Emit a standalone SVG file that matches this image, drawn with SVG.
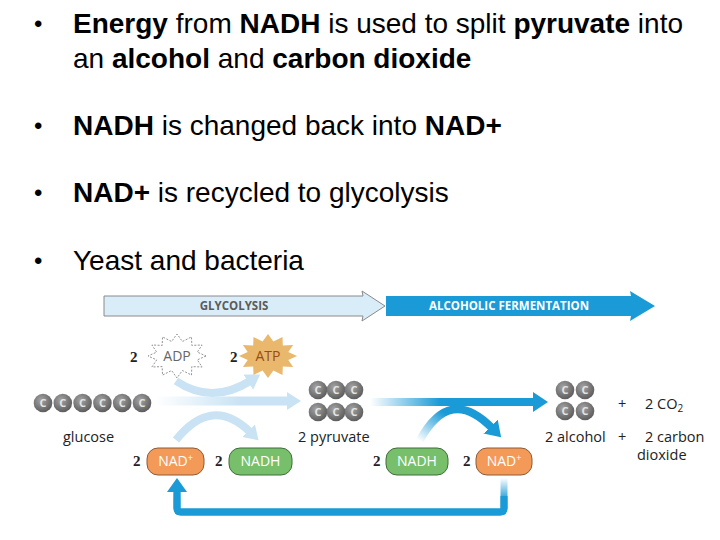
<svg xmlns="http://www.w3.org/2000/svg" width="720" height="540" viewBox="0 0 720 540">
<style>
.bt{font-family:"Liberation Sans",Arial,sans-serif;font-size:28px;fill:#000}
.bu{font-family:"Liberation Sans",Arial,sans-serif;font-size:24px;fill:#000}
.b{font-weight:bold}
.lbl{font-family:"Open Sans","Liberation Sans",sans-serif;font-size:14.5px;fill:#222}
.num{font-family:"Liberation Serif",serif;font-size:15px;font-weight:bold;fill:#222}
.pill{font-family:"Open Sans","Liberation Sans",sans-serif;font-size:14px;fill:#fff;text-anchor:middle}
.ban{font-family:"Open Sans","Liberation Sans",sans-serif;font-size:11.5px;font-weight:bold;text-anchor:middle}
.ct{font-family:"Open Sans","Liberation Sans",sans-serif;font-size:11px;font-weight:bold;fill:#e4e4e4;text-anchor:middle}
</style>
<defs>
<radialGradient id="ag" cx="40%" cy="35%" r="70%">
<stop offset="0" stop-color="#a4a4a4"/><stop offset="1" stop-color="#585858"/>
</radialGradient>
<g id="atom"><circle r="9.3" fill="url(#ag)"/><text class="ct" y="4">C</text></g>
<polygon id="star" points="29,0 20.3,3.9 25.1,11 14.8,10.6 14.5,19.1 5.4,14.5 0,22 -5.4,14.5 -14.5,19.1 -14.8,10.6 -25.1,11 -20.3,3.9 -29,0 -20.3,-3.9 -25.1,-11 -14.8,-10.6 -14.5,-19.1 -5.4,-14.5 0,-22 5.4,-14.5 14.5,-19.1 14.8,-10.6 25.1,-11 20.3,-3.9"/>
<linearGradient id="paleH" gradientUnits="userSpaceOnUse" x1="155" y1="0" x2="240" y2="0">
<stop offset="0" stop-color="#c9e3f4" stop-opacity="0"/><stop offset="1" stop-color="#c9e3f4"/>
</linearGradient>
<linearGradient id="blueH" gradientUnits="userSpaceOnUse" x1="370" y1="0" x2="440" y2="0">
<stop offset="0" stop-color="#1a9ad6" stop-opacity="0"/><stop offset="1" stop-color="#1a9ad6"/>
</linearGradient>
<linearGradient id="blueArc" gradientUnits="userSpaceOnUse" x1="418" y1="440" x2="440" y2="410">
<stop offset="0" stop-color="#1a9ad6" stop-opacity="0"/><stop offset="1" stop-color="#1a9ad6"/>
</linearGradient>
<linearGradient id="blueV" gradientUnits="userSpaceOnUse" x1="0" y1="478" x2="0" y2="500">
<stop offset="0" stop-color="#1a9ad6" stop-opacity="0"/><stop offset="1" stop-color="#1a9ad6"/>
</linearGradient>
<marker id="mPale" markerUnits="userSpaceOnUse" markerWidth="20" markerHeight="20" refX="2" refY="9" orient="auto">
<polygon points="0,0 14,9 0,18" fill="#c9e3f4"/>
</marker>
<marker id="mBlue" markerUnits="userSpaceOnUse" markerWidth="20" markerHeight="22" refX="2" refY="10" orient="auto">
<polygon points="0,0 15,10 0,20" fill="#1a9ad6"/>
</marker>
</defs>
<rect width="720" height="540" fill="#fff"/>

<g id="bullets">
<text class="bu" x="34" y="32">•</text>
<text class="bt" x="73" y="33"><tspan class="b">Energy</tspan> from <tspan class="b">NADH</tspan> is used to split <tspan class="b">pyruvate</tspan> into</text>
<text class="bt" x="73" y="68">an <tspan class="b">alcohol</tspan> and <tspan class="b">carbon dioxide</tspan></text>
<text class="bu" x="34" y="134">•</text>
<text class="bt" x="73" y="135"><tspan class="b">NADH</tspan> is changed back into <tspan class="b">NAD+</tspan></text>
<text class="bu" x="34" y="201">•</text>
<text class="bt" x="73" y="202"><tspan class="b">NAD+</tspan> is recycled to glycolysis</text>
<text class="bu" x="34" y="269">•</text>
<text class="bt" x="73" y="270">Yeast and bacteria</text>
</g>

<g id="banner-glycolysis">
<polygon points="104,296 363,296 362,291 385,306 362,321 363,316 104,316" fill="#d9edf9" stroke="#8a8a8a" stroke-width="1"/>
<text class="ban" x="234" y="310" fill="#5b5b5b">GLYCOLYSIS</text>
</g>
<g id="banner-fermentation">
<polygon points="386,296 631,296 630,291 655,306 630,321 631,316 386,316" fill="#1a9ad6"/>
<text class="ban" x="509" y="310" fill="#fff">ALCOHOLIC FERMENTATION</text>
</g>

<g id="connectors">
<path d="M155 401 H289" fill="none" stroke="url(#paleH)" stroke-width="9" marker-end="url(#mPale)"/>
<path d="M176 381 Q212 405 250 381" fill="none" stroke="#c9e3f4" stroke-width="8" marker-end="url(#mPale)"/>
<path d="M176 440 Q212 395 250 432" fill="none" stroke="#c9e3f4" stroke-width="8" marker-end="url(#mPale)"/>
<path d="M370 402 H535" fill="none" stroke="url(#blueH)" stroke-width="8" marker-end="url(#mBlue)"/>
<path d="M420 440 Q450 385 492 428" fill="none" stroke="url(#blueArc)" stroke-width="8" marker-end="url(#mBlue)"/>
<path d="M504 478 V508 Q504 512 500 512 H181 Q177 512 177 508 V491" fill="none" stroke="url(#blueV)" stroke-width="7"/>
<path d="M504 496 V508 Q504 512 500 512 H181 Q177 512 177 508 V491" fill="none" stroke="#1a9ad6" stroke-width="7"/>
<polygon points="167,492 177,478 187,492" fill="#1a9ad6"/>
</g>

<g id="adp">
<text class="num" x="130" y="362">2</text>
<use href="#star" transform="translate(177,356)" fill="#fff" stroke="#777" stroke-width="0.8" stroke-dasharray="2,1.5"/>
<text class="pill" x="177" y="361" style="fill:#666">ADP</text>
</g>
<g id="atp">
<text class="num" x="230" y="362">2</text>
<use href="#star" transform="translate(268,356)" fill="#e9b86c"/>
<text class="pill" x="268" y="361" style="fill:#9a4c18">ATP</text>
</g>

<g id="glucose">
<use href="#atom" x="43" y="403"/><use href="#atom" x="62.8" y="403"/><use href="#atom" x="82.6" y="403"/><use href="#atom" x="102.4" y="403"/><use href="#atom" x="122.2" y="403"/><use href="#atom" x="142" y="403"/>
<text class="lbl" x="63" y="442">glucose</text>
</g>

<g id="pyruvate">
<use href="#atom" x="318" y="390"/><use href="#atom" x="336" y="390"/><use href="#atom" x="354" y="390"/>
<use href="#atom" x="318" y="412"/><use href="#atom" x="336" y="412"/><use href="#atom" x="354" y="412"/>
<text class="lbl" x="298" y="442">2 pyruvate</text>
</g>

<g id="alcohol">
<use href="#atom" x="565" y="390"/><use href="#atom" x="585" y="390"/>
<use href="#atom" x="565" y="411"/><use href="#atom" x="585" y="411"/>
<text class="lbl" x="545" y="442">2 alcohol</text>
<text class="lbl" x="618" y="409">+</text>
<text class="lbl" x="618" y="442">+</text>
</g>

<g id="co2">
<text class="lbl" x="645" y="409">2 CO<tspan font-size="10" dy="3">2</tspan></text>
<text class="lbl" x="645" y="442">2 carbon</text>
<text class="lbl" x="637" y="460">dioxide</text>
</g>

<g id="nad-left">
<text class="num" x="133" y="466">2</text>
<rect x="147" y="448" width="57" height="27" rx="11" fill="#f39a58" stroke="#8e5a36" stroke-width="1"/>
<text class="pill" x="175.5" y="466">NAD<tspan font-size="9" dy="-5">+</tspan></text>
</g>
<g id="nadh-left">
<text class="num" x="215" y="466">2</text>
<rect x="229" y="448" width="63" height="27" rx="11" fill="#78bf6c" stroke="#3f6d3a" stroke-width="1"/>
<text class="pill" x="260.5" y="466">NADH</text>
</g>
<g id="nadh-right">
<text class="num" x="373" y="466">2</text>
<rect x="386" y="448" width="62" height="27" rx="11" fill="#78bf6c" stroke="#3f6d3a" stroke-width="1"/>
<text class="pill" x="417" y="466">NADH</text>
</g>
<g id="nad-right">
<text class="num" x="463" y="466">2</text>
<rect x="476" y="448" width="56" height="27" rx="11" fill="#f39a58" stroke="#8e5a36" stroke-width="1"/>
<text class="pill" x="504" y="466">NAD<tspan font-size="9" dy="-5">+</tspan></text>
</g>
</svg>
